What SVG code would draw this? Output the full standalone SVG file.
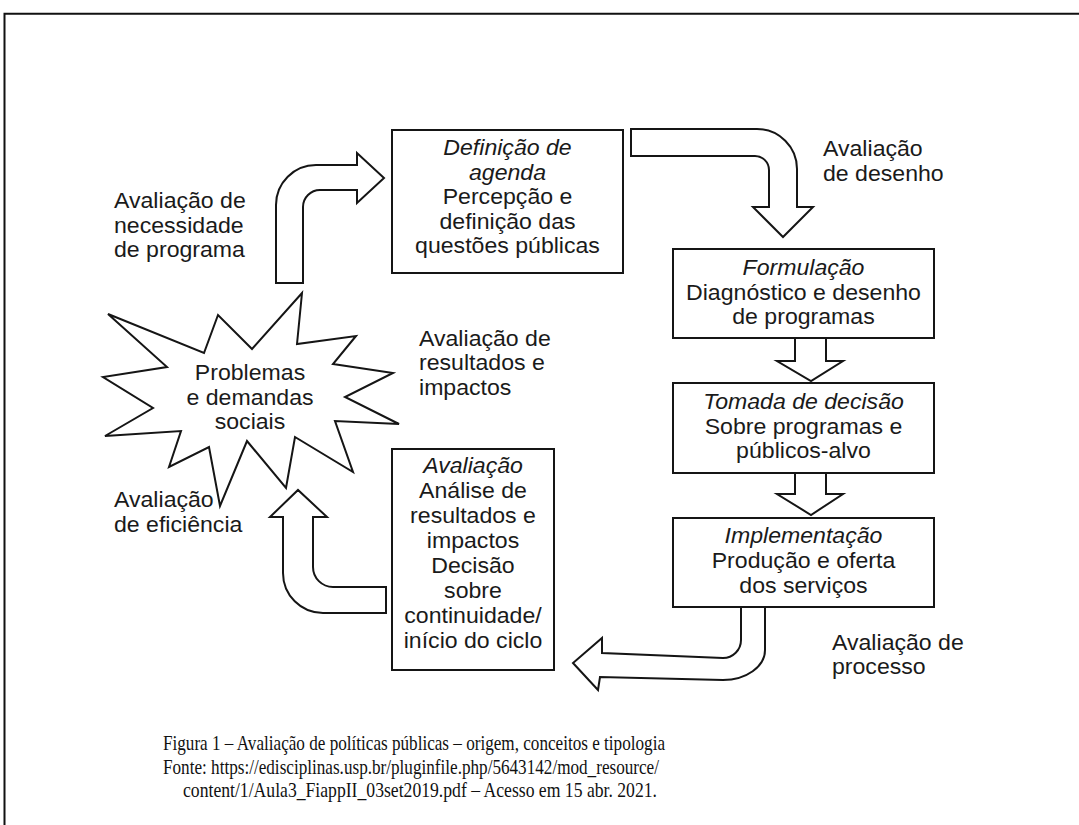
<svg xmlns="http://www.w3.org/2000/svg" width="1079" height="825" viewBox="0 0 1079 825">
<style>
.bx{fill:#fff;stroke:#151515;stroke-width:2}
.ar{fill:#fff;stroke:#151515;stroke-width:2;stroke-linejoin:miter}
.t{font-family:"Liberation Sans",Arial,sans-serif;font-size:22px;fill:#1a1a1a}
.c{text-anchor:middle}
.i{font-style:italic}
.cap{font-family:"Liberation Serif","Times New Roman",serif;font-size:21px;fill:#111}
</style>
<rect x="0" y="0" width="1079" height="825" fill="#fff"/>
<path d="M4.5 830 L4.5 13.7 L1085 13.7" fill="none" stroke="#111" stroke-width="2"/>

<g id="connectors">
<path class="ar" d="M276 283 L276 205 A40 40 0 0 1 316 165 L357 165 L357 153 L384 178 L357 203 L357 190 L320 190 A17 17 0 0 0 303 207 L303 283 Z"/>
<path class="ar" d="M631 129 L757 129 A40 40 0 0 1 797 169 L797 207 L813 207 L783 237 L753 207 L769 207 L769 170 A14 14 0 0 0 755 156 L631 156 Z"/>
<path class="ar" d="M795 338 L795 361 L777 361 L811 381 L843 361 L826 361 L826 338"/>
<path class="ar" d="M795 473 L795 494 L777 494 L811 515 L843 494 L826 494 L826 473"/>
<path class="ar" d="M741 607 L741 640 A18 18 0 0 1 723 658 L602 653 L602 638 L573 663 L598 690 L600 677 L723 680 A42 30 0 0 0 765 650 L765 607"/>
<path class="ar" d="M386 613 L323 613 A40 40 0 0 1 283 573 L283 517 L270 517 L298 490 L327 517 L313 517 L313 567 A20 20 0 0 0 333 587 L386 587 Z"/>
</g>

<g id="star">
<polygon class="bx" points="302,293 297,344 356,336 333,364 393,373 345,397 399,424 335,421 353,472 295,437 286,488 247,441 220,506 209,447 169,467 181,431 105,436 153,408 103,377 167,367 108,314 204,353 218,315 252,349"/>
<text class="t c" transform="translate(250,0) scale(1.05,1)"><tspan x="0" y="380">Problemas</tspan><tspan x="0" y="405">e  demandas</tspan><tspan x="0" y="429">sociais</tspan></text>
</g>

<g id="agenda">
<rect class="bx" x="392" y="130" width="231" height="143"/>
<text class="t c" transform="translate(507.5,0) scale(1.05,1)"><tspan class="i" x="0" y="155">Definição de</tspan><tspan class="i" x="0" y="180">agenda</tspan><tspan x="0" y="204">Percepção e</tspan><tspan x="0" y="229">definição das</tspan><tspan x="0" y="253">questões públicas</tspan></text>
</g>

<g id="formulacao">
<rect class="bx" x="673" y="249" width="261" height="89"/>
<text class="t c" transform="translate(803.5,0) scale(1.05,1)"><tspan class="i" x="0" y="275">Formulação</tspan><tspan x="0" y="300">Diagnóstico e desenho</tspan><tspan x="0" y="324">de programas</tspan></text>
</g>

<g id="decisao">
<rect class="bx" x="673" y="383" width="261" height="90"/>
<text class="t c" transform="translate(803.5,0) scale(1.05,1)"><tspan class="i" x="0" y="409">Tomada de decisão</tspan><tspan x="0" y="434">Sobre programas e</tspan><tspan x="0" y="458">públicos-alvo</tspan></text>
</g>

<g id="implementacao">
<rect class="bx" x="673" y="518" width="261" height="89"/>
<text class="t c" transform="translate(803.5,0) scale(1.05,1)"><tspan class="i" x="0" y="543">Implementação</tspan><tspan x="0" y="568">Produção e oferta</tspan><tspan x="0" y="593">dos serviços</tspan></text>
</g>

<g id="avaliacao">
<rect class="bx" x="392" y="449" width="162" height="221"/>
<text class="t c" transform="translate(473,0) scale(1.05,1)"><tspan class="i" x="0" y="473">Avaliação</tspan><tspan x="0" y="498">Análise de</tspan><tspan x="0" y="523">resultados e</tspan><tspan x="0" y="548">impactos</tspan><tspan x="0" y="573">Decisão</tspan><tspan x="0" y="598">sobre</tspan><tspan x="0" y="623">continuidade/</tspan><tspan x="0" y="648">início do ciclo</tspan></text>
</g>

<g id="labels">
<text class="t" transform="translate(114,0) scale(1.05,1)"><tspan x="0" y="208">Avaliação de</tspan><tspan x="0" y="233">necessidade</tspan><tspan x="0" y="257">de programa</tspan></text>
<text class="t" transform="translate(823,0) scale(1.05,1)"><tspan x="0" y="156">Avaliação</tspan><tspan x="0" y="181">de desenho</tspan></text>
<text class="t" transform="translate(419,0) scale(1.05,1)"><tspan x="0" y="346">Avaliação de</tspan><tspan x="0" y="370">resultados e</tspan><tspan x="0" y="395">impactos</tspan></text>
<text class="t" transform="translate(114,0) scale(1.05,1)"><tspan x="0" y="507">Avaliação</tspan><tspan x="0" y="532">de eficiência</tspan></text>
<text class="t" transform="translate(832,0) scale(1.05,1)"><tspan x="0" y="650">Avaliação de</tspan><tspan x="0" y="674">processo</tspan></text>
</g>

<g id="caption">
<text class="cap" x="163" y="750" textLength="502" lengthAdjust="spacingAndGlyphs">Figura 1 – Avaliação de políticas públicas – origem, conceitos e tipologia</text>
<text class="cap" x="163" y="773.5" textLength="496" lengthAdjust="spacingAndGlyphs">Fonte: https://edisciplinas.usp.br/pluginfile.php/5643142/mod_resource/</text>
<text class="cap" x="183" y="797" textLength="474" lengthAdjust="spacingAndGlyphs">content/1/Aula3_FiappII_03set2019.pdf – Acesso em 15 abr. 2021.</text>
</g>
</svg>
